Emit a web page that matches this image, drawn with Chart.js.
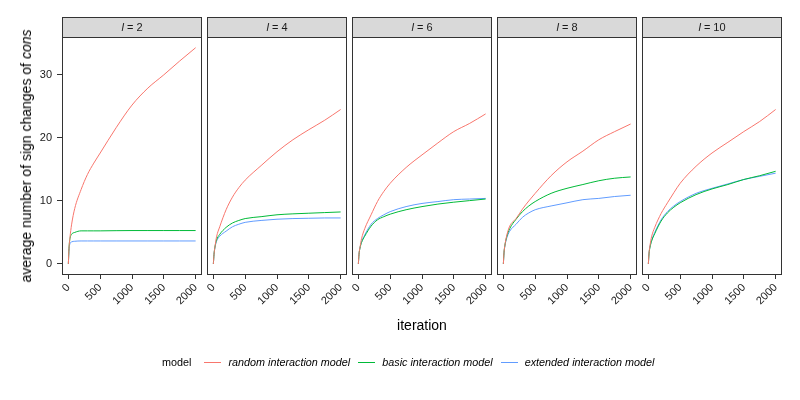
<!DOCTYPE html>
<html>
<head>
<meta charset="utf-8">
<script src="https://cdn.jsdelivr.net/npm/chart.js@4.4.1/dist/chart.umd.min.js"></script>
<style>
  body { margin: 0; background: #fff; }
  #wrap { position: relative; width: 800px; height: 400px; font-family: "Liberation Sans", Arial, sans-serif; color: #000; }
  #wrap canvas { position: absolute; left: 0; top: 0; }
  .ytitle { position: absolute; left: 26px; top: 156px; font-size: 14px; white-space: nowrap;
            transform: translate(-50%, -50%) rotate(-90deg); }
  .xtitle { position: absolute; left: 422px; top: 325px; font-size: 14px; transform: translate(-50%, -50%); }
  #legend { position: absolute; left: 162px; top: 356px; display: flex; align-items: center; font-size: 10.8px; white-space: nowrap; }
  #legend .key { display: inline-block; width: 17px; height: 1px; margin-right: 7px; }
  #legend .lab { font-style: italic; margin-right: 8px; }
</style>
</head>
<body>
<div id="wrap">
  <canvas id="p0" width="800" height="400"></canvas>
  <canvas id="p1" width="800" height="400"></canvas>
  <canvas id="p2" width="800" height="400"></canvas>
  <canvas id="p3" width="800" height="400"></canvas>
  <canvas id="p4" width="800" height="400"></canvas>
  <div class="ytitle">average number of sign changes of <i>cons</i></div>
  <div class="xtitle">iteration</div>
  <div id="legend"><span style="margin-right:13px">model</span></div>
</div>
<script>
// data
var iterations = [0, 10, 25, 50, 100, 200, 300, 400, 500, 750, 1000, 1250, 1500, 1750, 2000];
var lValues = [2, 4, 6, 8, 10];
var modelNames = ["random interaction model", "basic interaction model", "extended interaction model"];
var modelColors = ["#F8766D", "#00BA38", "#619CFF"];
var xTicks = [0, 500, 1000, 1500, 2000];
var yTicks = [0, 10, 20, 30];

var random2 = [0, 2.5, 4.2, 6.2, 8.8, 11.8, 14.2, 16.0, 17.6, 21.6, 25.2, 27.9, 30.0, 32.2, 34.3];
var basic2 = [0, 2.5, 4.0, 4.7, 5.0, 5.25, 5.25, 5.25, 5.25, 5.28, 5.3, 5.3, 5.3, 5.3, 5.3];
var extended2 = [0, 2.2, 3.2, 3.5, 3.6, 3.65, 3.65, 3.65, 3.65, 3.65, 3.65, 3.65, 3.65, 3.65, 3.65];

var random4 = [0, 1.5, 2.7, 4.3, 5.9, 8.6, 10.6, 12.1, 13.3, 15.6, 17.8, 19.7, 21.3, 22.8, 24.5];
var basic4 = [0, 1.5, 2.7, 3.8, 4.7, 5.8, 6.5, 6.9, 7.2, 7.5, 7.8, 7.95, 8.05, 8.15, 8.25];
var extended4 = [0, 1.5, 2.6, 3.6, 4.4, 5.2, 5.9, 6.3, 6.6, 6.9, 7.1, 7.2, 7.25, 7.3, 7.3];

var random6 = [0, 1.6, 2.6, 4.0, 5.6, 7.8, 9.9, 11.5, 12.8, 15.3, 17.3, 19.2, 21.0, 22.3, 23.8];
var basic6 = [0, 1.5, 2.5, 3.4, 4.4, 6.0, 7.0, 7.5, 7.9, 8.6, 9.1, 9.5, 9.8, 10.05, 10.3];
var extended6 = [0, 1.5, 2.5, 3.5, 4.6, 6.3, 7.2, 7.8, 8.3, 9.1, 9.6, 9.9, 10.2, 10.3, 10.4];

var random8 = [0, 1.8, 3.0, 4.4, 6.0, 7.2, 8.7, 10.0, 11.2, 14.0, 16.2, 17.9, 19.7, 21.0, 22.2];
var basic8 = [0, 1.8, 3.0, 4.2, 5.6, 7.1, 8.3, 9.2, 9.9, 11.2, 12.0, 12.6, 13.2, 13.6, 13.8];
var extended8 = [0, 1.7, 2.9, 4.0, 5.2, 6.3, 7.4, 8.1, 8.6, 9.2, 9.7, 10.2, 10.4, 10.7, 10.9];

var random10 = [0, 1.7, 2.9, 4.3, 5.8, 8.0, 9.7, 11.3, 12.8, 15.5, 17.6, 19.3, 21.0, 22.6, 24.5];
var basic10 = [0, 1.6, 2.6, 3.6, 4.8, 6.8, 8.1, 9.0, 9.7, 11.0, 11.9, 12.6, 13.4, 14.0, 14.7];
var extended10 = [0, 1.6, 2.7, 3.7, 5.0, 7.0, 8.3, 9.2, 9.9, 11.2, 12.0, 12.7, 13.4, 13.9, 14.4];

var panels = [
  [random2, basic2, extended2],
  [random4, basic4, extended4],
  [random6, basic6, extended6],
  [random8, basic8, extended8],
  [random10, basic10, extended10]
];

Chart.defaults.font.family = '"Liberation Sans", Arial, sans-serif';

// panel geometry
var panelLeft = 62, panelStep = 145, panelWidth = 140;
var panelTop = 37, panelBottom = 275, stripTop = 17;
var yAxisW = 40, xAxisH = 40;

// box around each panel + grey strip with the facet label
var panelFrame = {
  id: "panelFrame",
  afterDatasetsDraw: function (chart, args, opts) {
    var ctx = chart.ctx, a = chart.chartArea;
    var w = a.right - a.left;
    ctx.save();
    ctx.strokeStyle = "#333";
    ctx.lineWidth = 1;
    ctx.strokeRect(a.left + 0.5, a.top + 0.5, w - 1, a.bottom - a.top - 1);
    ctx.fillStyle = "#d9d9d9";
    ctx.fillRect(a.left, stripTop, w, a.top - stripTop);
    ctx.strokeRect(a.left + 0.5, stripTop + 0.5, w - 1, a.top - stripTop);
    // "l = N" with italic l
    var fam = Chart.defaults.font.family;
    ctx.fillStyle = "#1a1a1a";
    ctx.textBaseline = "middle";
    ctx.font = "italic 11px " + fam;
    var w1 = ctx.measureText("l").width;
    ctx.font = "11px " + fam;
    var rest = " = " + opts.l;
    var w2 = ctx.measureText(rest).width;
    var x = a.left + w / 2 - (w1 + w2) / 2;
    var y = (stripTop + a.top) / 2 + 0.5;
    ctx.font = "italic 11px " + fam;
    ctx.fillText("l", x, y);
    ctx.font = "11px " + fam;
    ctx.fillText(rest, x + w1, y);
    ctx.restore();
  }
};

panels.forEach(function (series, i) {
  var left = panelLeft + panelStep * i;
  var first = i === 0;
  new Chart(document.getElementById("p" + i), {
    type: "line",
    data: {
      datasets: series.map(function (vals, k) {
        return {
          label: modelNames[k],
          data: iterations.map(function (it, j) { return { x: it, y: vals[j] }; }),
          borderColor: modelColors[k],
          borderWidth: 1,
          pointRadius: 0,
          cubicInterpolationMode: "monotone",
          fill: false
        };
      })
    },
    options: {
      responsive: false,
      animation: false,
      events: [],
      layout: {
        padding: {
          left: first ? left - yAxisW : left,
          right: 800 - (left + panelWidth),
          top: panelTop,
          bottom: 400 - panelBottom - xAxisH
        }
      },
      plugins: {
        legend: { display: false },
        tooltip: { enabled: false },
        panelFrame: { l: lValues[i] }
      },
      scales: {
        x: {
          type: "linear",
          min: -100,
          max: 2100,
          afterBuildTicks: function (s) { s.ticks = xTicks.map(function (v) { return { value: v }; }); },
          afterFit: function (s) { s.height = xAxisH; },
          border: { display: false },
          grid: { drawOnChartArea: false, drawTicks: true, tickLength: 4, color: "#333" },
          ticks: { autoSkip: false, minRotation: 45, maxRotation: 45, padding: 2,
                   font: { size: 11 }, color: "#1a1a1a",
                   callback: function (v) { return String(v); } }
        },
        y: {
          display: first,
          min: -1.75,
          max: 36,
          afterBuildTicks: function (s) { s.ticks = yTicks.map(function (v) { return { value: v }; }); },
          afterFit: function (s) { s.width = first ? yAxisW : 0; },
          border: { display: false },
          grid: { drawOnChartArea: false, drawTicks: true, tickLength: 5, color: "#333" },
          ticks: { padding: 5, font: { size: 11 }, color: "#1a1a1a" }
        }
      }
    },
    plugins: [panelFrame]
  });
});

// legend row
var legend = document.getElementById("legend");
modelNames.forEach(function (name, k) {
  var key = document.createElement("span");
  key.className = "key";
  key.style.background = modelColors[k];
  legend.appendChild(key);
  var lab = document.createElement("span");
  lab.className = "lab";
  lab.textContent = name;
  legend.appendChild(lab);
});
</script>
</body>
</html>
